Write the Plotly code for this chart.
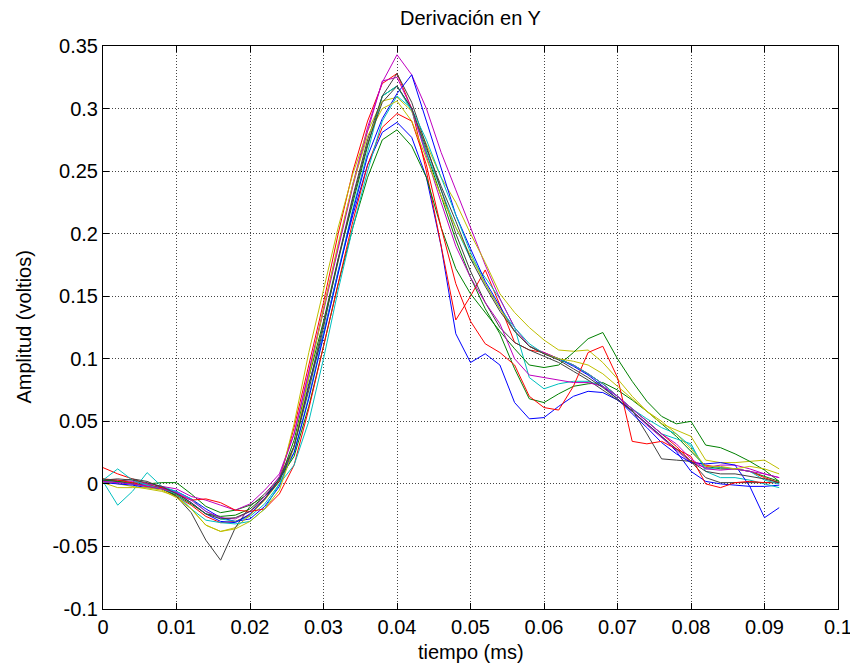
import plotly.graph_objects as go

t = [round(0.002 * i, 3) for i in range(47)]

b1 = [0.002, 0.001, 0.000, -0.001, -0.003, -0.006, -0.012, -0.020, -0.027, -0.030, -0.028, -0.018, -0.002,
      0.030, 0.080, 0.120, 0.170, 0.215, 0.255, 0.281, 0.289, 0.277, 0.245,
      0.190, 0.120, 0.097, 0.104, 0.095, 0.065, 0.052, 0.053, 0.062, 0.070, 0.074, 0.073, 0.067, 0.058,
      0.048, 0.038, 0.026, 0.010, 0.002, 0.000, -0.001, -0.002, -0.002, -0.001]
g1 = [0.004, 0.002, 0.001, 0.000, 0.001, 0.001, -0.008, -0.018, -0.023, -0.021, -0.017, -0.010, 0.002,
      0.035, 0.085, 0.130, 0.180, 0.225, 0.270, 0.310, 0.318, 0.300, 0.265,
      0.230, 0.195, 0.165, 0.140, 0.120, 0.092, 0.068, 0.065, 0.072, 0.078, 0.080, 0.081, 0.075, 0.067,
      0.058, 0.048, 0.038, 0.026, 0.014, 0.012, 0.012, 0.010, 0.006, 0.002]
r1 = [0.013, 0.008, 0.004, 0.000, -0.004, -0.010, -0.017, -0.026, -0.031, -0.030, -0.025, -0.012, 0.003,
      0.045, 0.095, 0.145, 0.200, 0.250, 0.290, 0.320, 0.328, 0.300, 0.250,
      0.190, 0.131, 0.150, 0.171, 0.143, 0.113, 0.107, 0.105, 0.100, 0.095, 0.088, 0.080, 0.070, 0.060,
      0.050, 0.040, 0.030, 0.018, 0.015, 0.013, 0.012, 0.010, 0.005, 0.001]
c1 = [0.002, -0.017, -0.006, 0.009, -0.002, -0.006, -0.012, -0.022, -0.028, -0.030, -0.026, -0.016, 0.000,
      0.025, 0.070, 0.120, 0.170, 0.220, 0.265, 0.310, 0.318, 0.298, 0.265,
      0.235, 0.205, 0.180, 0.165, 0.148, 0.125, 0.085, 0.076, 0.080, 0.082, 0.082, 0.078, 0.070, 0.060,
      0.050, 0.040, 0.036, 0.032, 0.010, 0.005, 0.005, 0.003, 0.000, -0.003]
m1 = [0.003, 0.003, 0.002, 0.000, -0.002, -0.004, -0.010, -0.013, -0.017, -0.021, -0.016, -0.005, 0.008,
      0.040, 0.090, 0.140, 0.190, 0.240, 0.285, 0.321, 0.343, 0.327, 0.300,
      0.265, 0.235, 0.205, 0.175, 0.148, 0.125, 0.110, 0.105, 0.100, 0.095, 0.088, 0.080, 0.070, 0.058,
      0.047, 0.037, 0.027, 0.017, 0.013, 0.015, 0.015, 0.012, 0.008, 0.005]
y1 = [0.002, 0.000, -0.002, -0.004, -0.006, -0.010, -0.020, -0.033, -0.038, -0.035, -0.025, -0.013, 0.002,
      0.048, 0.105, 0.155, 0.205, 0.248, 0.282, 0.306, 0.309, 0.298, 0.272,
      0.245, 0.225, 0.200, 0.177, 0.152, 0.137, 0.125, 0.115, 0.107, 0.106, 0.107, 0.097, 0.084, 0.070,
      0.058, 0.048, 0.043, 0.038, 0.019, 0.017, 0.017, 0.018, 0.019, 0.012]
k1 = [0.003, 0.002, 0.004, 0.002, -0.003, -0.010, -0.023, -0.045, -0.061, -0.035, -0.018, -0.008, 0.005,
      0.030, 0.075, 0.125, 0.180, 0.230, 0.275, 0.310, 0.328, 0.305, 0.270,
      0.235, 0.200, 0.170, 0.145, 0.125, 0.113, 0.107, 0.102, 0.097, 0.090, 0.083, 0.075, 0.067, 0.059,
      0.040, 0.020, 0.019, 0.018, 0.005, 0.001, 0.001, 0.001, 0.001, 0.001]
b2 = [0.001, 0.000, -0.001, -0.003, -0.004, -0.007, -0.015, -0.024, -0.030, -0.031, -0.024, -0.012, 0.004,
      0.025, 0.068, 0.118, 0.168, 0.218, 0.262, 0.292, 0.312, 0.327, 0.290,
      0.252, 0.215, 0.188, 0.162, 0.142, 0.122, 0.110, 0.104, 0.100, 0.094, 0.087, 0.078, 0.068, 0.056,
      0.045, 0.033, 0.024, 0.017, 0.016, 0.017, 0.015, -0.002, -0.027, -0.019]
g2 = [0.003, 0.002, 0.000, -0.002, -0.004, -0.009, -0.016, -0.024, -0.026, -0.025, -0.020, -0.010, 0.004,
      0.022, 0.062, 0.110, 0.160, 0.205, 0.245, 0.275, 0.283, 0.270, 0.245,
      0.205, 0.172, 0.152, 0.137, 0.122, 0.108, 0.095, 0.093, 0.095, 0.105, 0.116, 0.121, 0.100, 0.082,
      0.066, 0.054, 0.048, 0.050, 0.031, 0.029, 0.024, 0.018, 0.011, 0.002]
r2 = [0.004, 0.003, 0.001, -0.002, -0.003, -0.008, -0.013, -0.012, -0.015, -0.021, -0.022, -0.020, -0.008,
      0.015, 0.060, 0.110, 0.160, 0.210, 0.255, 0.285, 0.296, 0.290, 0.255,
      0.205, 0.160, 0.130, 0.112, 0.105, 0.095, 0.070, 0.061, 0.059, 0.078, 0.105, 0.110, 0.085, 0.034,
      0.032, 0.034, 0.028, 0.022, 0.000, -0.003, 0.001, 0.002, 0.001, 0.001]
c2 = [0.003, 0.012, 0.003, -0.001, -0.004, -0.008, -0.020, -0.029, -0.031, -0.032, -0.030, -0.020, 0.000,
      0.015, 0.050, 0.100, 0.155, 0.205, 0.250, 0.290, 0.310, 0.300, 0.275,
      0.245, 0.215, 0.185, 0.160, 0.140, 0.125, 0.112, 0.104, 0.100, 0.095, 0.088, 0.080, 0.070, 0.060,
      0.052, 0.045, 0.040, 0.030, 0.012, 0.013, 0.012, 0.010, 0.003, 0.000]
m2 = [0.002, 0.001, 0.000, -0.002, -0.004, -0.007, -0.013, -0.022, -0.027, -0.028, -0.022, -0.010, 0.006,
      0.040, 0.088, 0.138, 0.188, 0.238, 0.282, 0.322, 0.325, 0.300, 0.262,
      0.225, 0.190, 0.165, 0.145, 0.128, 0.100, 0.087, 0.085, 0.083, 0.081, 0.081, 0.078, 0.070, 0.060,
      0.050, 0.040, 0.032, 0.020, 0.012, 0.011, 0.012, 0.010, 0.008, 0.005]
y2 = [0.001, -0.003, -0.003, -0.003, -0.005, -0.011, -0.020, -0.033, -0.038, -0.036, -0.030, -0.020, -0.005,
      0.030, 0.085, 0.140, 0.192, 0.240, 0.278, 0.300, 0.306, 0.290, 0.260,
      0.230, 0.205, 0.182, 0.160, 0.140, 0.122, 0.110, 0.104, 0.100, 0.098, 0.095, 0.088, 0.078, 0.068,
      0.058, 0.050, 0.040, 0.028, 0.014, 0.014, 0.012, 0.014, 0.012, 0.008]
k2 = [0.003, 0.004, 0.003, 0.001, -0.002, -0.008, -0.015, -0.024, -0.028, -0.027, -0.022, -0.012, 0.002,
      0.030, 0.078, 0.128, 0.178, 0.228, 0.272, 0.305, 0.318, 0.300, 0.268,
      0.238, 0.210, 0.180, 0.158, 0.138, 0.122, 0.110, 0.104, 0.099, 0.092, 0.085, 0.077, 0.068, 0.058,
      0.048, 0.038, 0.028, 0.018, 0.010, 0.008, 0.008, 0.006, 0.004, 0.001]

series = [b1, g1, r1, c1, m1, y1, k1, b2, g2, r2, c2, m2, y2, k2]
colors = ["#0000FF", "#008000", "#FF0000", "#00BFBF", "#BF00BF", "#BFBF00", "#404040"]

x_ticks = [0, 0.01, 0.02, 0.03, 0.04, 0.05, 0.06, 0.07, 0.08, 0.09, 0.1]
x_labels = ["0", "0.01", "0.02", "0.03", "0.04", "0.05", "0.06", "0.07", "0.08", "0.09", "0.1"]
y_ticks = [-0.1, -0.05, 0, 0.05, 0.1, 0.15, 0.2, 0.25, 0.3, 0.35]
y_labels = ["-0.1", "-0.05", "0", "0.05", "0.1", "0.15", "0.2", "0.25", "0.3", "0.35"]

title_text = "Derivación en Y"
x_title = "tiempo (ms)"
y_title = "Amplitud (voltios)"

fig = go.Figure()
for i, s in enumerate(series):
    fig.add_trace(go.Scatter(x=t, y=s, mode="lines",
                             line=dict(color=colors[i % 7], width=1),
                             showlegend=False, hoverinfo="skip"))

font = "Liberation Sans, Arial, sans-serif"
axis_common = dict(showline=True, linecolor="black", linewidth=1, mirror="allticks",
                   ticks="inside", ticklen=6, tickcolor="black", automargin=False,
                   showgrid=True, gridcolor="#444444", griddash="1px,2px", gridwidth=1,
                   zeroline=False, tickfont=dict(family=font, size=20, color="black"))

# the page body has an 8px margin, so the figure is shifted by 8px
fig.update_layout(
    width=850, height=663, autosize=False,
    margin=dict(l=95, r=20, t=38, b=62),
    paper_bgcolor="white", plot_bgcolor="white",
    xaxis=dict(range=[0, 0.1], tickvals=x_ticks, ticktext=x_labels, **axis_common),
    yaxis=dict(range=[-0.1, 0.35], tickvals=y_ticks, ticktext=y_labels, **axis_common),
    annotations=[
        dict(text=title_text, xref="paper", yref="paper", x=0.5, y=(609 - 18) / 563,
             xanchor="center", yanchor="middle", showarrow=False,
             font=dict(family=font, size=20, color="black")),
        dict(text=x_title, xref="paper", yref="paper", x=0.5, y=(609 - 652) / 563,
             xanchor="center", yanchor="middle", showarrow=False,
             font=dict(family=font, size=20, color="black")),
        dict(text=y_title, xref="paper", yref="paper", x=(23 - 103) / 735, y=0.5,
             xanchor="center", yanchor="middle", showarrow=False, textangle=-90,
             font=dict(family=font, size=20, color="black")),
    ],
)

fig.write_html("out.html")
